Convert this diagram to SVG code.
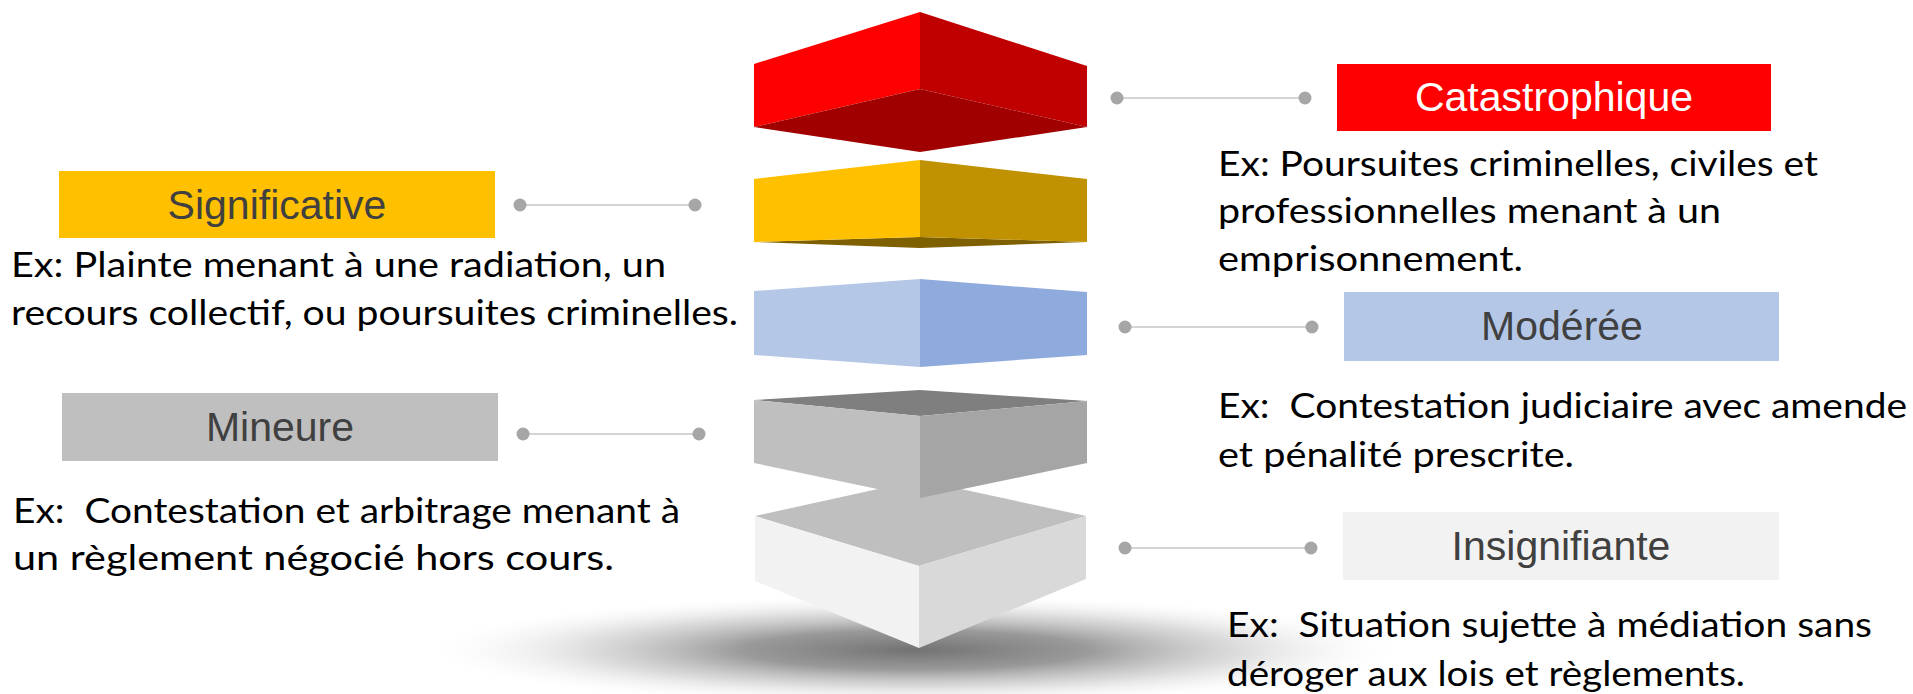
<svg xmlns="http://www.w3.org/2000/svg" width="1913" height="694" viewBox="0 0 1913 694">
  <defs>
    <radialGradient id="shadowGrad" cx="0.5" cy="0.5" r="0.5">
      <stop offset="0" stop-color="#727272" stop-opacity="1"/>
      <stop offset="0.35" stop-color="#8e8e8e" stop-opacity="0.9"/>
      <stop offset="0.65" stop-color="#bcbcbc" stop-opacity="0.55"/>
      <stop offset="0.88" stop-color="#e4e4e4" stop-opacity="0.2"/>
      <stop offset="1" stop-color="#ffffff" stop-opacity="0"/>
    </radialGradient>
  </defs>
  <style>
    .lbl { font-family: "Liberation Sans", Arial, sans-serif; font-size: 41px; fill: #404040; text-anchor: middle; }
    .lbl-w { fill: #ffffff; }
    .desc { font-family: Lato, "Open Sans", "Liberation Sans", sans-serif; font-size: 35px; fill: #000000; }
    .conn line { stroke: #d4d4d4; stroke-width: 2; }
    .conn circle { fill: #a6a6a6; }
  </style>
  <rect x="0" y="0" width="1913" height="694" fill="#ffffff"/>

  <!-- shadow -->
  <ellipse id="shadow" cx="915" cy="650" rx="490" ry="56" fill="url(#shadowGrad)"/>

  <!-- stacked layers -->
  <g id="layer-insignifiante">
    <polygon points="755,516 919,480 1086,516 919,566" fill="#bfbfbf"/>
    <polygon points="755,516 919,566 919,648 755,581" fill="#f2f2f2"/>
    <polygon points="919,566 1086,516 1086,579 919,648" fill="#d9d9d9"/>
  </g>
  <g id="layer-mineure">
    <polygon points="754,400 920,390 1087,401 920,416" fill="#7f7f7f"/>
    <polygon points="754,400 920,416 920,498 754,463" fill="#bfbfbf"/>
    <polygon points="920,416 1087,401 1087,463 920,498" fill="#a5a5a5"/>
  </g>
  <g id="layer-moderee">
    <polygon points="754,291 920,279 920,367 754,355" fill="#b4c7e7"/>
    <polygon points="920,279 1087,292 1087,355 920,367" fill="#8faadc"/>
  </g>
  <g id="layer-significative">
    <polygon points="754,242 920,237 1087,242 920,248" fill="#7f6000"/>
    <polygon points="754,179 920,160 920,237 754,242" fill="#ffc000"/>
    <polygon points="920,160 1087,179 1087,242 920,237" fill="#c09100"/>
  </g>
  <g id="layer-catastrophique">
    <polygon points="754,64 920,12 920,89 754,127" fill="#ff0000"/>
    <polygon points="920,12 1087,66 1087,127 920,89" fill="#c00000"/>
    <polygon points="754,127 920,89 1087,127 920,152" fill="#a00000"/>
  </g>

  <!-- connectors -->
  <g id="connectors" class="conn">
    <line x1="1117" y1="98" x2="1305" y2="98"/>
    <circle cx="1117" cy="98" r="6.5"/>
    <circle cx="1305" cy="98" r="6.5"/>

    <line x1="520" y1="205" x2="695" y2="205"/>
    <circle cx="520" cy="205" r="6.5"/>
    <circle cx="695" cy="205" r="6.5"/>

    <line x1="1125" y1="327" x2="1312" y2="327"/>
    <circle cx="1125" cy="327" r="6.5"/>
    <circle cx="1312" cy="327" r="6.5"/>

    <line x1="523" y1="434" x2="699" y2="434"/>
    <circle cx="523" cy="434" r="6.5"/>
    <circle cx="699" cy="434" r="6.5"/>

    <line x1="1125" y1="548" x2="1311" y2="548"/>
    <circle cx="1125" cy="548" r="6.5"/>
    <circle cx="1311" cy="548" r="6.5"/>
  </g>

  <!-- nodes -->
  <g id="node-catastrophique">
    <rect x="1337" y="64" width="434" height="67" fill="#ff0000"/>
    <text class="lbl lbl-w" x="1554" y="111">Catastrophique</text>
    <text class="desc" x="1218" y="176" textLength="600" lengthAdjust="spacingAndGlyphs">Ex: Poursuites criminelles, civiles et</text>
    <text class="desc" x="1218" y="223" textLength="503" lengthAdjust="spacingAndGlyphs">professionnelles menant à un</text>
    <text class="desc" x="1218" y="271" textLength="305" lengthAdjust="spacingAndGlyphs">emprisonnement.</text>
  </g>

  <g id="node-significative">
    <rect x="59" y="171" width="436" height="67" fill="#ffc000"/>
    <text class="lbl" x="277" y="219">Significative</text>
    <text class="desc" x="11" y="277" textLength="655" lengthAdjust="spacingAndGlyphs">Ex: Plainte menant à une radiation, un</text>
    <text class="desc" x="11" y="325" textLength="727" lengthAdjust="spacingAndGlyphs">recours collectif, ou poursuites criminelles.</text>
  </g>

  <g id="node-moderee">
    <rect x="1344" y="292" width="435" height="69" fill="#b4c7e7"/>
    <text class="lbl" x="1562" y="340">Modérée</text>
    <text class="desc" x="1218" y="418" textLength="689" lengthAdjust="spacingAndGlyphs">Ex:&#160; Contestation judiciaire avec amende</text>
    <text class="desc" x="1218" y="467" textLength="356" lengthAdjust="spacingAndGlyphs">et pénalité prescrite.</text>
  </g>

  <g id="node-mineure">
    <rect x="62" y="393" width="436" height="68" fill="#bfbfbf"/>
    <text class="lbl" x="280" y="441">Mineure</text>
    <text class="desc" x="13" y="523" textLength="667" lengthAdjust="spacingAndGlyphs">Ex:&#160; Contestation et arbitrage menant à</text>
    <text class="desc" x="13" y="570" textLength="601" lengthAdjust="spacingAndGlyphs">un règlement négocié hors cours.</text>
  </g>

  <g id="node-insignifiante">
    <rect x="1343" y="512" width="436" height="68" fill="#f2f2f2"/>
    <text class="lbl" x="1561" y="560">Insignifiante</text>
    <text class="desc" x="1227" y="637" textLength="645" lengthAdjust="spacingAndGlyphs">Ex:&#160; Situation sujette à médiation sans</text>
    <text class="desc" x="1227" y="686" textLength="518" lengthAdjust="spacingAndGlyphs">déroger aux lois et règlements.</text>
  </g>
</svg>
